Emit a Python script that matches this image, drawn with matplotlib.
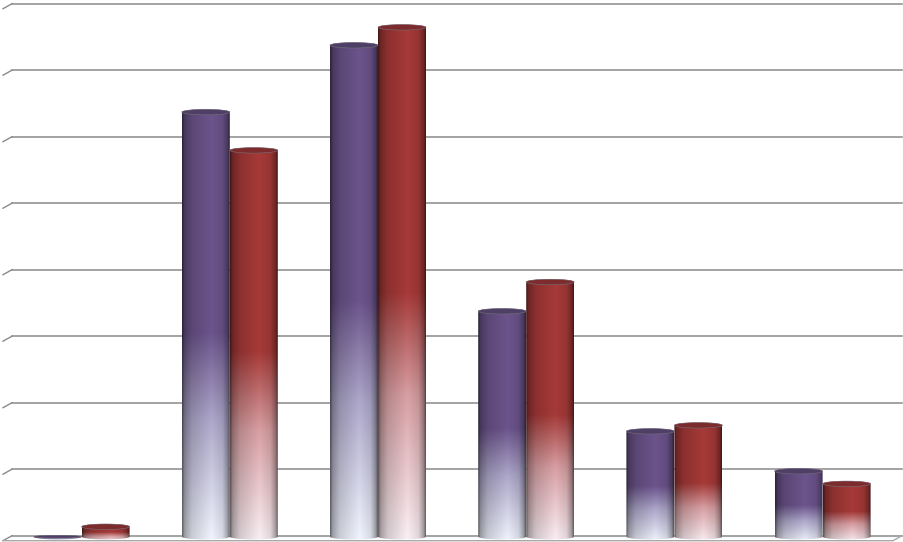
import numpy as np
import matplotlib
matplotlib.use("Agg")
import matplotlib.pyplot as plt
from matplotlib.patches import Ellipse, PathPatch
from matplotlib.path import Path
from matplotlib.colors import to_rgb

# in grid steps
groups = [0, 1, 2, 3, 4, 5]
purple_vals = [0.0, 6.385, 7.39, 3.39, 1.585, 0.985]
red_vals = [0.15, 5.81, 7.66, 3.83, 1.675, 0.795]
grid_vals = [0, 1, 2, 3, 4, 5, 6, 7, 8]

W, H = 904, 542
group_step = 148.2   # px between groups
x0_px = 81.6         # px of first group centre
y0_px = 535.7        # px of back wall floor
unit_px = 66.5       # px per grid step

bar_w = 48 / group_step
cap_h = 5.5 / unit_px
base_y = -1.0 / unit_px


def make_colors(top, mid, bottom):
    return [to_rgb(top), to_rgb(mid), to_rgb(bottom)]


purple_cols = make_colors("#6c548c", "#aea8cb", "#f2f6ff")
red_cols = make_colors("#a63a38", "#d9a0a4", "#fbf1f6")
purple_cap = "#4e3f66"
red_cap = "#7c2c2c"


def bar_image(cols, n=220):
    # horizontal shading times vertical fade, light at the bottom
    t = np.linspace(0, 1, 64)
    shade = np.interp(t, [0, 0.05, 0.2, 0.62, 0.85, 0.96, 1],
                      [0.42, 0.66, 0.84, 1.0, 0.9, 0.66, 0.42])
    f = np.linspace(0, 1, n)  # 0 at top of the bar
    img = np.zeros((n, 64, 3))
    for c in range(3):
        vert = np.interp(f, [0, 0.52, 0.72, 1.0],
                         [cols[0][c], cols[0][c], cols[1][c], cols[2][c]])
        img[:, :, c] = np.outer(vert, shade)
    return np.clip(img, 0, 1)


def draw_cyl(ax, x, val, cols, cap):
    left, right = x, x + bar_w
    cx = x + bar_w / 2
    top = val + base_y
    # the near-zero bar is only a flat disc
    top_h = cap_h if val > 0.02 else cap_h / 2
    a = np.linspace(np.pi, 2 * np.pi, 30)
    low_x = cx + bar_w / 2 * np.cos(a)
    low_y = base_y + cap_h / 2 * np.sin(a)
    up_x = cx + bar_w / 2 * np.cos(a[::-1] - np.pi)
    up_y = top + top_h / 2 * np.sin(a[::-1] - np.pi)
    verts = np.vstack([np.column_stack([low_x, low_y]),
                       np.column_stack([up_x[::-1], up_y[::-1]])])
    body = PathPatch(Path(np.vstack([verts, verts[0]]), closed=True),
                     fc="none", ec="none", transform=ax.transData)
    ax.add_patch(body)
    im = ax.imshow(bar_image(cols), extent=[left, right, base_y - cap_h, top + cap_h],
                   aspect="auto", interpolation="bilinear", zorder=3)
    im.set_clip_path(body)
    ax.add_patch(Ellipse((cx, top), bar_w, top_h, fc=cap, ec="#77707a",
                         lw=0.4, zorder=3.1))


fig = plt.figure(figsize=(W / 100, H / 100), dpi=100)
ax = fig.add_axes([0, 0, 1, 1])
ax.set_xlim(-x0_px / group_step, (W - x0_px) / group_step)
ax.set_ylim((y0_px - H) / unit_px, y0_px / unit_px)
ax.axis("off")

grid_c = "#8a8a8a"
back_l = (12 - x0_px) / group_step
back_r = (902 - x0_px) / group_step
dx = 9 / group_step
dy = 5 / unit_px

for g in grid_vals:
    ax.plot([back_l - dx, back_l], [g - dy, g], color=grid_c, lw=1.0, zorder=1)
    ax.plot([back_l, back_r], [g, g], color=grid_c, lw=1.1, zorder=1)
# floor
ax.plot([back_l - dx, back_r - dx, back_r], [-dy, -dy, 0], color="#a8a8a8", lw=1.0, zorder=1)

for i in range(len(groups)):
    draw_cyl(ax, groups[i] - bar_w, purple_vals[i], purple_cols, purple_cap)
    draw_cyl(ax, groups[i], red_vals[i], red_cols, red_cap)

ax.set_xlim(-x0_px / group_step, (W - x0_px) / group_step)
ax.set_ylim((y0_px - H) / unit_px, y0_px / unit_px)

fig.savefig("out.png", dpi=100)
